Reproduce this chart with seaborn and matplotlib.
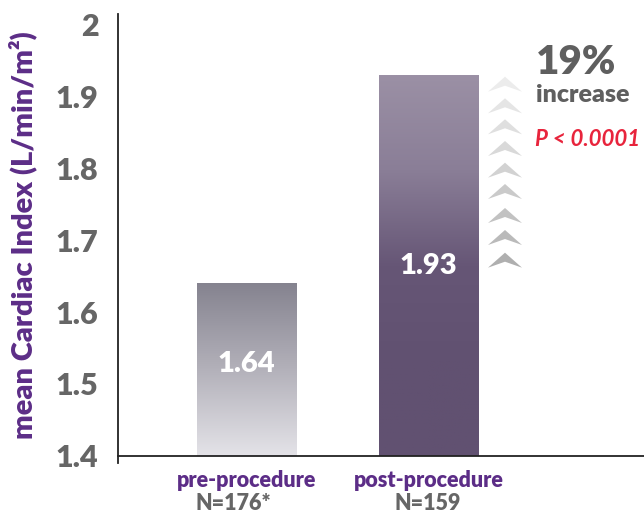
import matplotlib
matplotlib.use("Agg")
import matplotlib.pyplot as plt
import matplotlib.colors as mcolors
from matplotlib.patches import Polygon
import numpy as np
import pandas as pd
import seaborn as sns

# Data
groups = ["pre-procedure", "post-procedure"]
group_n = ["N=176*", "N=159"]
cardiac_index = [1.64, 1.93]
value_labels = ["1.64", "1.93"]
y_ticks = [1.4, 1.5, 1.6, 1.7, 1.8, 1.9, 2.0]
y_tick_labels = ["1.4", "1.5", "1.6", "1.7", "1.8", "1.9", "2"]
increase_text = "19%"
increase_word = "increase"
p_text = "P < 0.0001"

sns.set_theme(style="white")
plt.rcParams["font.family"] = ["Lato", "DejaVu Sans"]

PURPLE = "#5c2d87"
GRAY = "#666666"

df = pd.DataFrame({"group": groups, "ci": cardiac_index})

fig = plt.figure(figsize=(6.44, 5.13), dpi=100)
ax = fig.add_axes([118 / 644, 1 - 463 / 513, (644 - 118) / 644, (463 - 14) / 513])

sns.barplot(data=df, x="group", y="ci", ax=ax, width=0.544, color="#888888",
            edgecolor="none", saturation=1)

ymin, ymax = 1.39, 2.015
xmin, xmax = -0.706, 2.184
BASE = 1.4


def px_to_y(py):
    return ymax - (py - 14) / (463 - 14) * (ymax - ymin)


def px_to_x(px):
    return xmin + (px - 118) / (644 - 118) * (xmax - xmin)


# Gradient fills clipped to each bar
gradients = [
    ["#e4e3e8", "#b3b1ba", "#85838f"],          # bottom -> top
    ["#615171", "#615171", "#665676", "#8a7e97", "#9b90a5"],
]
for patch, cols in zip(ax.patches, gradients):
    x0 = patch.get_x()
    w, h = patch.get_width(), patch.get_height()
    patch.set_facecolor("none")
    cmap = mcolors.LinearSegmentedColormap.from_list("g", cols)
    grad = np.linspace(0, 1, 256).reshape(-1, 1)
    im = ax.imshow(grad, extent=[x0, x0 + w, BASE, h], origin="lower",
                   aspect="auto", cmap=cmap, zorder=1)
    im.set_clip_path(patch)
ax.set_xlim(xmin, xmax)
ax.set_ylim(ymin, ymax)

# Value labels inside bars
label_px = [364, 266]
for i, (txt, py) in enumerate(zip(value_labels, label_px)):
    ax.text(i, px_to_y(py), txt, ha="center", va="center", color="white",
            fontsize=21, fontweight="heavy", zorder=3)

# Upward chevrons beside the post bar
chev_tops = [76.7, 98.3, 119.3, 141, 162.7, 184, 208, 230, 252.7]
chev_cols = plt.get_cmap("Greys")(np.linspace(0.15, 0.42, len(chev_tops)))
for top, c in zip(chev_tops, chev_cols):
    xl, xm, xr = px_to_x(488), px_to_x(505), px_to_x(522)
    pts = [(xl, px_to_y(top + 15)), (xm, px_to_y(top)), (xr, px_to_y(top + 15)),
           (xm, px_to_y(top + 9))]
    ax.add_patch(Polygon(pts, closed=True, facecolor=c, edgecolor="none", zorder=2))

# Annotation text
fig.text(536 / 644, 1 - 62 / 513, increase_text, ha="left", va="center",
         fontsize=29, fontweight="heavy", color="#5f5f5f")
fig.text(536 / 644, 1 - 95 / 513, increase_word, ha="left", va="center",
         fontsize=18, fontweight="heavy", color="#5f5f5f")
fig.text(535 / 644, 1 - 140 / 513, p_text, ha="left", va="center",
         fontsize=16, fontweight="bold", fontstyle="italic", color="#e8243c")

# Axes styling
sns.despine(ax=ax, top=True, right=True)
ax.spines["bottom"].set_position(("data", BASE))
for s in ["left", "bottom"]:
    ax.spines[s].set_color("#222222")
    ax.spines[s].set_linewidth(1.3)

ax.set_yticks(y_ticks)
ax.set_yticklabels(y_tick_labels, fontsize=22, fontweight="heavy", color=GRAY)
ax.tick_params(axis="y", length=0, pad=14)
ax.tick_params(axis="x", length=0)
ax.set_xticks([0, 1])
ax.set_xticklabels([])
n_x = [px_to_x(233), px_to_x(428)]
for i, (g, n) in enumerate(zip(groups, group_n)):
    ax.text(i, px_to_y(481), g, ha="center", va="center", fontsize=15.5,
            fontweight="heavy", color=PURPLE, clip_on=False)
    ax.text(n_x[i], px_to_y(503), n, ha="center", va="center", fontsize=15.5,
            fontweight="heavy", color=GRAY, clip_on=False)

ax.set_xlabel("")
ax.set_ylabel("mean Cardiac Index (L/min/m²)", fontsize=21, fontweight="heavy",
              color=PURPLE)
ax.yaxis.label.set_verticalalignment("center")
ax.yaxis.set_label_coords(-(118 - 23) / (644 - 118), (463 - 235) / (463 - 14))

fig.savefig("out.png", dpi=100)
